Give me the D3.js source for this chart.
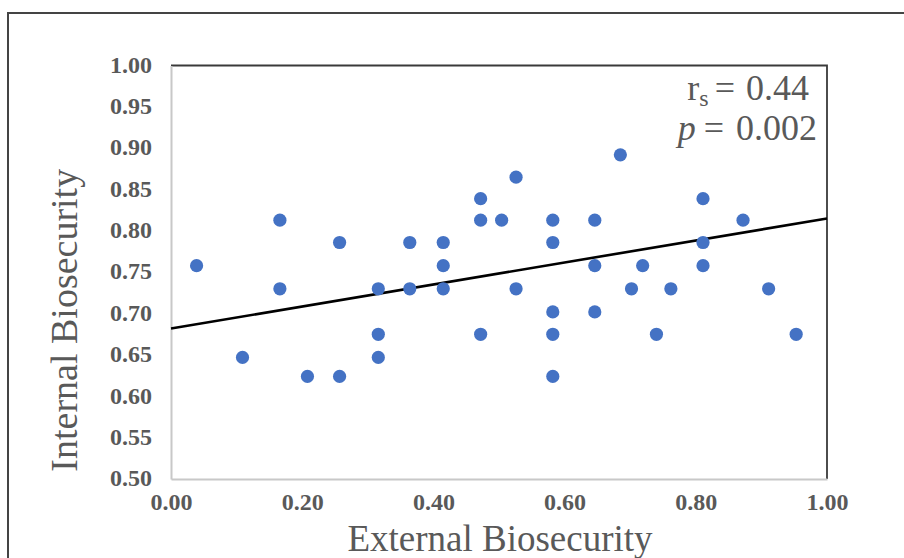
<!DOCTYPE html>
<html>
<head>
<meta charset="utf-8">
<script src="https://cdn.jsdelivr.net/npm/d3@7"></script>
<style>
  html, body { margin: 0; padding: 0; background: #fff; }
  svg { display: block; }
</style>
</head>
<body>
<svg id="chart" width="904" height="558"></svg>
<script>
// ---- data ----
const externalBiosecurity = [
  0.039, 0.109, 0.166, 0.166, 0.208, 0.257, 0.257, 0.316, 0.316, 0.316,
  0.364, 0.364, 0.415, 0.415, 0.415, 0.472, 0.472, 0.472, 0.504, 0.526,
  0.526, 0.582, 0.582, 0.582, 0.582, 0.582, 0.646, 0.646, 0.646, 0.685,
  0.702, 0.719, 0.740, 0.762, 0.811, 0.811, 0.811, 0.872, 0.911, 0.953
];
const internalBiosecurity = [
  0.758, 0.647, 0.813, 0.730, 0.624, 0.786, 0.624, 0.730, 0.675, 0.647,
  0.786, 0.730, 0.786, 0.758, 0.730, 0.839, 0.813, 0.675, 0.813, 0.865,
  0.730, 0.813, 0.786, 0.702, 0.675, 0.624, 0.813, 0.758, 0.702, 0.892,
  0.730, 0.758, 0.675, 0.730, 0.839, 0.786, 0.758, 0.813, 0.730, 0.675
];
const xTicks = [0, 0.2, 0.4, 0.6, 0.8, 1.0];
const yTicks = [0.50, 0.55, 0.60, 0.65, 0.70, 0.75, 0.80, 0.85, 0.90, 0.95, 1.00];
const trendIntercept = 0.682;
const trendSlope = 0.133;
const xTitle = "External Biosecurity";
const yTitle = "Internal Biosecurity";
const rsText = "0.44";
const pText = "0.002";

// ---- layout ----
const svg = d3.select("#chart");
const pL = 171, pR = 827, pT = 65.5, pB = 479;
const x = d3.scaleLinear().domain([0, 1]).range([pL, pR]);
const y = d3.scaleLinear().domain([0.5, 1]).range([pB, pT]);
const gray = "#595959";
const serif = "'Liberation Serif', 'Times New Roman', serif";

// outer frame
svg.append("rect")
  .attr("x", 8).attr("y", 13).attr("width", 1000).attr("height", 1000)
  .attr("fill", "none").attr("stroke", "#444").attr("stroke-width", 2);

// plot frame top/right (dark)
svg.append("path")
  .attr("d", `M${pL},${pT}H${pR}V${pB}`)
  .attr("fill", "none").attr("stroke", "#3a3a3a").attr("stroke-width", 1.8);

// axes
const xAxis = d3.axisBottom(x).tickValues(xTicks).tickSize(0).tickPadding(14)
  .tickFormat(d3.format(".2f"));
const yAxis = d3.axisLeft(y).tickValues(yTicks).tickSize(0).tickPadding(19)
  .tickFormat(d3.format(".2f"));

const gx = svg.append("g").attr("transform", `translate(0,${pB})`).call(xAxis);
const gy = svg.append("g").attr("transform", `translate(${pL},0)`).call(yAxis);
[gx, gy].forEach(g => {
  g.select(".domain").attr("stroke", "#c8c8c8").attr("stroke-width", 2);
  g.selectAll("text")
    .attr("fill", gray)
    .style("font-family", serif)
    .style("font-weight", "bold")
    .style("font-size", "24px");
});
gy.selectAll("text").attr("dy", "0.28em");
gx.selectAll("text").attr("dy", "0.72em");

// trend line
svg.append("line")
  .attr("x1", x(0)).attr("y1", y(trendIntercept))
  .attr("x2", x(1)).attr("y2", y(trendIntercept + trendSlope))
  .attr("stroke", "#000").attr("stroke-width", 2.6);

// points
svg.append("g").selectAll("circle")
  .data(externalBiosecurity.map((v, i) => [v, internalBiosecurity[i]]))
  .join("circle")
  .attr("cx", d => x(d[0])).attr("cy", d => y(d[1]))
  .attr("r", 6.6).attr("fill", "#4472C4");

// titles
svg.append("text")
  .attr("x", (pL + pR) / 2 + 1).attr("y", 551)
  .attr("text-anchor", "middle")
  .attr("fill", gray).style("font-family", serif).style("font-size", "37px")
  .text(xTitle);
svg.append("text")
  .attr("transform", `translate(77,${(pT + pB) / 2 + 48}) rotate(-90)`)
  .attr("text-anchor", "middle")
  .attr("fill", gray).style("font-family", serif).style("font-size", "38px")
  .text(yTitle);

// annotation
const t1 = svg.append("text").attr("x", 809).attr("y", 99.5)
  .attr("text-anchor", "end").attr("fill", gray)
  .style("font-family", serif).style("font-size", "36px");
t1.append("tspan").text("r");
t1.append("tspan").attr("dy", 6).style("font-size", "24px").text("s");
t1.append("tspan").attr("dy", -6).attr("dx", 6).text("=");
t1.append("tspan").attr("dx", 11).text(rsText);

const t2 = svg.append("text").attr("x", 817).attr("y", 140)
  .attr("text-anchor", "end").attr("fill", gray)
  .style("font-family", serif).style("font-size", "36px");
t2.append("tspan").style("font-style", "italic").text("p");
t2.append("tspan").attr("dx", 8).text("=");
t2.append("tspan").attr("dx", 12).text(pText);
</script>
</body>
</html>
